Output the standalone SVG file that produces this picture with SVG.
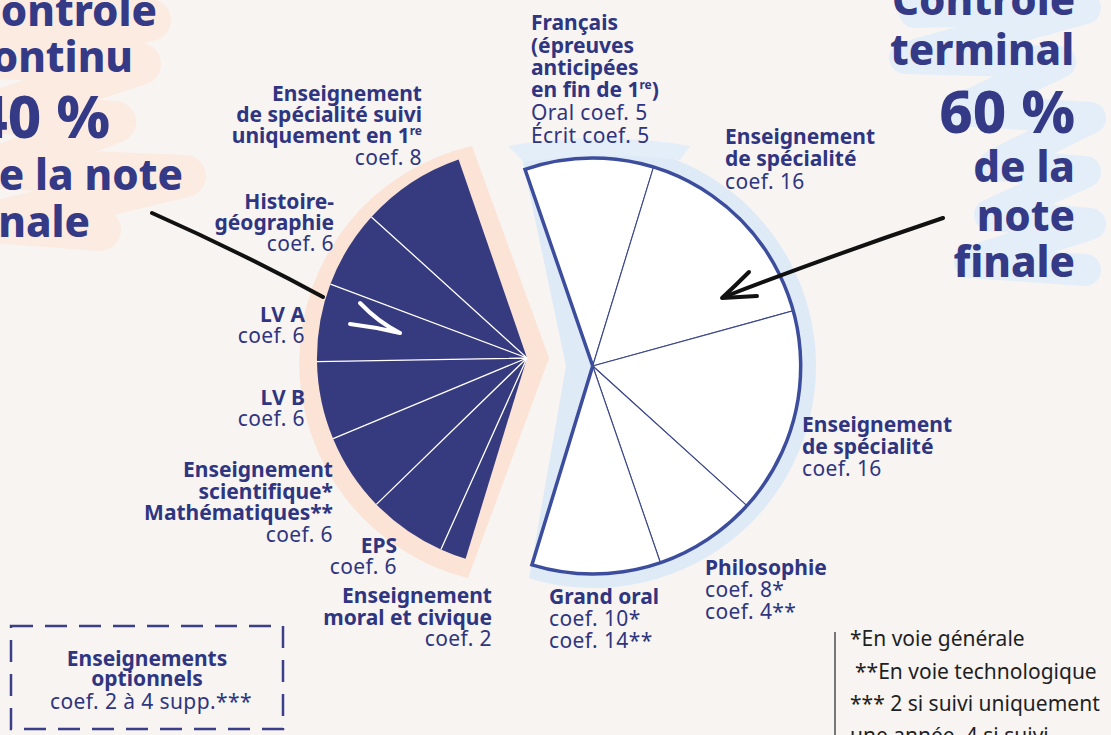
<svg xmlns="http://www.w3.org/2000/svg" width="1111" height="735" viewBox="0 0 1111 735">
<defs>
<style>
.t{font-family:"Noto Sans","Liberation Sans",sans-serif;fill:#2f3580}
.b{font-weight:700;letter-spacing:0}
.big{font-family:"Noto Sans","Liberation Sans",sans-serif;font-weight:800;fill:#343a86}
.lab{font-size:21px;letter-spacing:0.4px}
.fn{font-family:"Noto Sans","Liberation Sans",sans-serif;font-size:21px;fill:#1f1f24}
.navy{fill:#363a7e}
.div{stroke:#ffffff;stroke-width:1.3;fill:none}
.wseg{fill:#ffffff;stroke:#3b4688;stroke-width:1.1}
.arr{fill:none;stroke:#111111;stroke-width:4;stroke-linecap:round;stroke-linejoin:round}
.warr{fill:none;stroke:#ffffff;stroke-width:4;stroke-linecap:round;stroke-linejoin:round}
</style>
</defs>
<rect x="0" y="0" width="1111" height="735" fill="#f7f4f2"/>

<!-- brush backgrounds -->
<g id="brush-left" fill="none" stroke="#fcebe1" stroke-linecap="round" stroke-linejoin="round">
<path d="M-10 14 L150 20 L-5 58 L140 64 L-5 112 L115 122 L-5 168 L185 176 L-5 222 L100 230" stroke-width="42"/>
</g>
<g id="brush-right" fill="none" stroke="#e4eef9" stroke-linecap="round" stroke-linejoin="round">
<path d="M915 12 L1085 8 L905 58 L1060 62 L960 110 L1090 118 L995 165 L1085 172 L990 215 L1090 224 L970 262 L1085 270" stroke-width="32"/>
</g>

<!-- halos -->
<path id="halo-left" d="M549 358 L472 146 A222 222 0 0 0 468 578 Z" fill="#fbe3d6"/>
<path id="halo-right" d="M566 366 L521.7 156.1 A222 222 0 1 1 529.1 578.3 Z" fill="#dfeaf7"/>
<path d="M508 146 Q600 130 690 146 L680 160 Q600 150 524 162 Z" fill="#e4eef9"/>

<!-- left pie : contrôle continu -->
<g id="cc-specialite-1re"><path class="navy" d="M527 358 L458.6 159.4 A210 210 0 0 0 371.4 216.9 Z"/></g>
<g id="cc-histoire-geo"><path class="navy" d="M527 358 L371.4 216.9 A210 210 0 0 0 330.4 284.1 Z"/></g>
<g id="cc-lva"><path class="navy" d="M527 358 L330.4 284.1 A210 210 0 0 0 317 361.7 Z"/></g>
<g id="cc-lvb"><path class="navy" d="M527 358 L317 361.7 A210 210 0 0 0 333.1 438.7 Z"/></g>
<g id="cc-sci"><path class="navy" d="M527 358 L333.1 438.7 A210 210 0 0 0 376.4 504.4 Z"/></g>
<g id="cc-eps"><path class="navy" d="M527 358 L376.4 504.4 A210 210 0 0 0 440.9 549.5 Z"/></g>
<g id="cc-emc"><path class="navy" d="M527 358 L440.9 549.5 A210 210 0 0 0 465.6 558.8 Z"/></g>
<g id="cc-dividers">
<path class="div" d="M527 358 L371.4 216.9 M527 358 L330.4 284.1 M527 358 L317 361.7 M527 358 L333.1 438.7 M527 358 L376.4 504.4 M527 358 L440.9 549.5"/>
</g>

<!-- right pie : contrôle terminal -->
<g id="ct-francais"><path class="wseg" d="M592.7 366 L525 169.3 A208 208 0 0 1 653.5 167.1 Z"/></g>
<g id="ct-specialite-1"><path class="wseg" d="M592.7 366 L653.5 167.1 A208 208 0 0 1 793.2 310.8 Z"/></g>
<g id="ct-specialite-2"><path class="wseg" d="M592.7 366 L793.2 310.8 A208 208 0 0 1 746.8 505.7 Z"/></g>
<g id="ct-philo"><path class="wseg" d="M592.7 366 L746.8 505.7 A208 208 0 0 1 660.4 562.7 Z"/></g>
<g id="ct-grand-oral"><path class="wseg" d="M592.7 366 L660.4 562.7 A208 208 0 0 1 531.9 564.9 Z"/></g>
<path id="ct-outline" d="M592.7 366 L525 169.3 A208 208 0 1 1 531.9 564.9 Z" fill="none" stroke="#3b4d9c" stroke-width="3.5" stroke-linejoin="miter"/>

<!-- titles -->
<g id="title-left" class="big">
<text x="157" y="26" font-size="42" text-anchor="end">Contrôle</text>
<text x="133" y="72" font-size="42" text-anchor="end">continu</text>
<text x="110" y="138" font-size="58" text-anchor="end">40 %</text>
<text x="183" y="190" font-size="42" text-anchor="end">de la note</text>
<text x="90" y="237" font-size="42" text-anchor="end">finale</text>
</g>
<g id="title-right" class="big">
<text x="892" y="15" font-size="42">Contrôle</text>
<text x="890" y="65" font-size="42">terminal</text>
<text x="1075" y="133" font-size="58" text-anchor="end">60 %</text>
<text x="1075" y="182" font-size="42" text-anchor="end">de la</text>
<text x="1075" y="231" font-size="42" text-anchor="end">note</text>
<text x="1075" y="277" font-size="42" text-anchor="end">finale</text>
</g>

<!-- left labels -->
<g id="label-specialite-1re" class="t lab" text-anchor="end">
<text x="422" y="101" class="b">Enseignement</text>
<text x="422" y="122" class="b">de spécialité suivi</text>
<text x="422" y="143" class="b">uniquement en 1<tspan font-size="12" dy="-8">re</tspan></text>
<text x="422" y="165">coef. 8</text>
</g>
<g id="label-histoire-geo" class="t lab" text-anchor="end">
<text x="334" y="209" class="b">Histoire-</text>
<text x="334" y="230" class="b">géographie</text>
<text x="334" y="251">coef. 6</text>
</g>
<g id="label-lva" class="t lab" text-anchor="end">
<text x="305" y="322" class="b">LV A</text>
<text x="305" y="343">coef. 6</text>
</g>
<g id="label-lvb" class="t lab" text-anchor="end">
<text x="305" y="405" class="b">LV B</text>
<text x="305" y="426">coef. 6</text>
</g>
<g id="label-sci" class="t lab" text-anchor="end">
<text x="333" y="477" class="b">Enseignement</text>
<text x="333" y="499" class="b">scientifique*</text>
<text x="333" y="520" class="b">Mathématiques**</text>
<text x="333" y="542">coef. 6</text>
</g>
<g id="label-eps" class="t lab" text-anchor="end">
<text x="397" y="553" class="b">EPS</text>
<text x="397" y="574">coef. 6</text>
</g>
<g id="label-emc" class="t lab" text-anchor="end">
<text x="492" y="603" class="b">Enseignement</text>
<text x="492" y="625" class="b">moral et civique</text>
<text x="492" y="646">coef. 2</text>
</g>

<!-- right labels -->
<g id="label-francais" class="t lab">
<text x="531" y="30" class="b">Français</text>
<text x="531" y="53" class="b">(épreuves</text>
<text x="531" y="75" class="b">anticipées</text>
<text x="531" y="97" class="b">en fin de 1<tspan font-size="12" dy="-8">re</tspan><tspan dy="8">)</tspan></text>
<text x="531" y="120">Oral coef. 5</text>
<text x="531" y="143">Écrit coef. 5</text>
</g>
<g id="label-specialite-a" class="t lab">
<text x="725" y="144" class="b">Enseignement</text>
<text x="725" y="166" class="b">de spécialité</text>
<text x="725" y="189">coef. 16</text>
</g>
<g id="label-specialite-b" class="t lab">
<text x="802" y="432" class="b">Enseignement</text>
<text x="802" y="454" class="b">de spécialité</text>
<text x="802" y="476">coef. 16</text>
</g>
<g id="label-philo" class="t lab">
<text x="705" y="575" class="b">Philosophie</text>
<text x="705" y="597">coef. 8*</text>
<text x="705" y="619">coef. 4**</text>
</g>
<g id="label-grand-oral" class="t lab">
<text x="549" y="604" class="b">Grand oral</text>
<text x="549" y="626">coef. 10*</text>
<text x="549" y="648">coef. 14**</text>
</g>

<!-- optional box -->
<g id="optionnels">
<rect x="11" y="626" width="272" height="103" fill="none" stroke="#3a3f88" stroke-width="2.5" stroke-dasharray="22 12"/>
<g class="t lab" text-anchor="middle">
<text x="147" y="666" class="b">Enseignements</text>
<text x="147" y="686" class="b">optionnels</text>
<text x="151" y="709">coef. 2 à 4 supp.***</text>
</g>
</g>

<!-- footnotes -->
<g id="footnotes">
<line x1="835" y1="632" x2="835" y2="735" stroke="#777" stroke-width="2"/>
<text class="fn" x="850" y="646">*En voie générale</text>
<text class="fn" x="855" y="679">**En voie technologique</text>
<text class="fn" x="850" y="711">*** 2 si suivi uniquement</text>
<text class="fn" x="850" y="743">une année, 4 si suivi</text>
</g>

<!-- connectors -->
<g id="connectors">
<path class="arr" d="M152 213 Q240 252 323 297"/>
<path class="warr" d="M360 303 Q378 322 400 333 M350 324 Q375 327 400 333"/>
<path class="arr" d="M943 218 Q830 256 724 297"/>
<path class="arr" d="M749 272 Q735 286 722 298 L757 296"/>
</g>
</svg>
